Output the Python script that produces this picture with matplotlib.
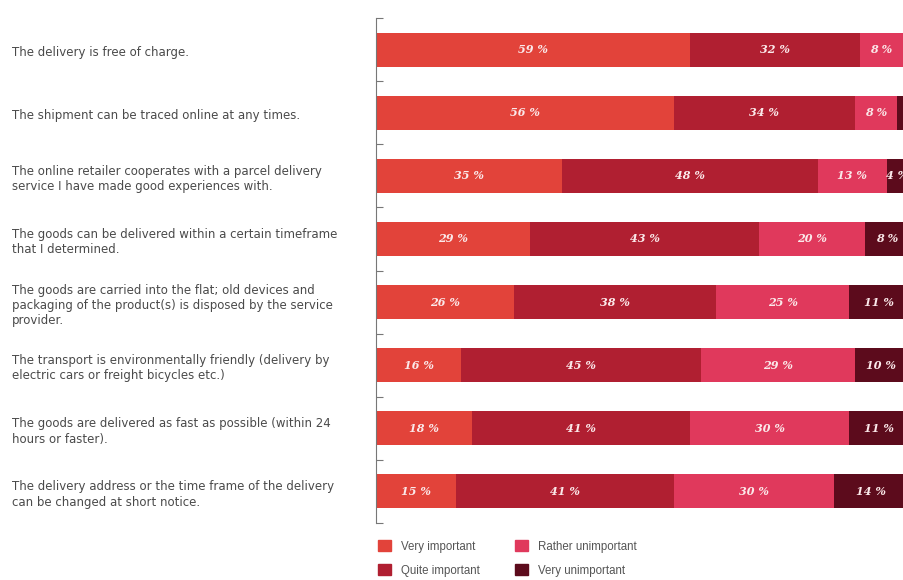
import numpy as np
import matplotlib.pyplot as plt
from matplotlib.patches import Patch
from matplotlib.transforms import blended_transform_factory

# ---- data ----
statements = [
    "The delivery is free of charge.",
    "The shipment can be traced online at any times.",
    "The online retailer cooperates with a parcel delivery\nservice I have made good experiences with.",
    "The goods can be delivered within a certain timeframe\nthat I determined.",
    "The goods are carried into the flat; old devices and\npackaging of the product(s) is disposed by the service\nprovider.",
    "The transport is environmentally friendly (delivery by\nelectric cars or freight bicycles etc.)",
    "The goods are delivered as fast as possible (within 24\nhours or faster).",
    "The delivery address or the time frame of the delivery\ncan be changed at short notice.",
]
categories = ["Very important", "Quite important", "Rather unimportant", "Very unimportant"]
very_important = [59, 56, 35, 29, 26, 16, 18, 15]
quite_important = [32, 34, 48, 43, 38, 45, 41, 41]
rather_unimportant = [8, 8, 13, 20, 25, 29, 30, 30]
very_unimportant = [1, 2, 4, 8, 11, 10, 11, 14]

colors = ["#e2433a", "#b01f31", "#e0395c", "#5c0b1c"]
series = [very_important, quite_important, rather_unimportant, very_unimportant]

fig = plt.figure(figsize=(9.04, 5.8), dpi=100)
ax = fig.add_axes([376 / 904, 1 - 523 / 580, 532 / 904, 505 / 580])

y = np.arange(len(statements))
left = np.zeros(len(statements))
for vals, col, name in zip(series, colors, categories):
    vals = np.array(vals, dtype=float)
    ax.barh(y, vals, left=left, height=0.54, color=col, label=name)
    for yi, l, v in zip(y, left, vals):
        if v >= 3:
            ax.text(l + v / 2, yi, f"{int(v)} %", ha="center", va="center",
                    color="#fbe9ea", fontsize=8, fontweight="bold",
                    fontstyle="italic", family="DejaVu Serif")
    left += vals

ax.set_xlim(0, 100)
ax.set_ylim(len(statements) - 0.5, -0.5)
ax.set_xticks([])
ax.set_yticks(np.arange(-0.5, len(statements) + 0.5, 1))
ax.set_yticklabels([])
ax.tick_params(axis="y", length=5, width=0.8, color="#777777", direction="in")
for s in ["top", "right", "bottom"]:
    ax.spines[s].set_visible(False)
ax.spines["left"].set_color("#777777")
ax.spines["left"].set_linewidth(0.8)

# statement labels at the left page edge
trans = blended_transform_factory(fig.transFigure, ax.transData)
for yi, txt in zip(y, statements):
    ax.text(12 / 904, yi + 0.05, txt, transform=trans, ha="left", va="center",
            fontsize=8.5, color="#4a4a4a", family="DejaVu Sans",
            linespacing=1.22, clip_on=False)

handles = [Patch(color=c, label=n) for c, n in zip(colors, categories)]
fig.legend(handles=handles, ncol=2, loc="lower left",
           bbox_to_anchor=(368 / 904, -0.012), frameon=False,
           handlelength=1.1, handleheight=1.1, columnspacing=3.0,
           labelspacing=1.0, handletextpad=0.9,
           labelcolor="#555555", prop={"family": "Liberation Sans", "size": 8.3})

fig.savefig("out.png", dpi=100)
